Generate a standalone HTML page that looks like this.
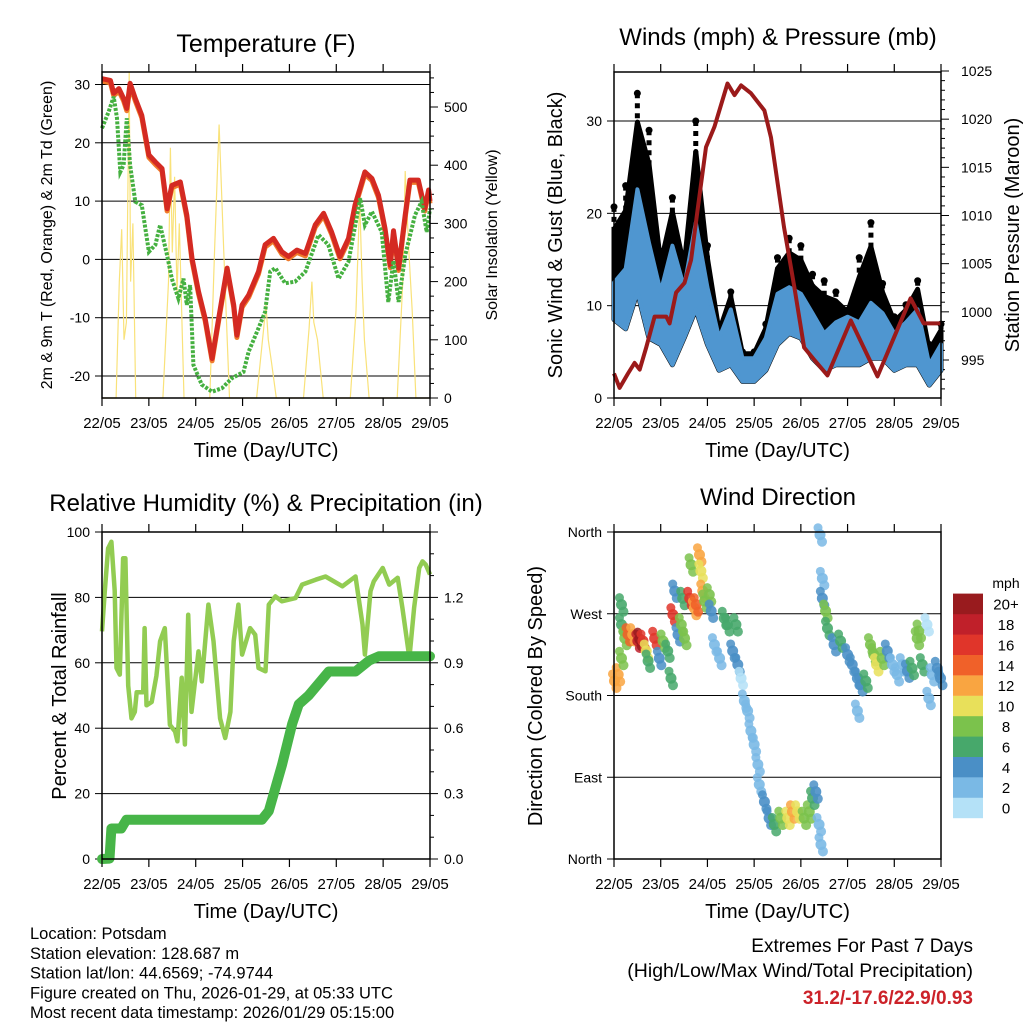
<!DOCTYPE html>
<html><head><meta charset="utf-8"><style>
body{margin:0;background:#fff;}
svg{display:block;font-family:"Liberation Sans",Arial,sans-serif;}
</style></head><body>
<svg id="c" width="1024" height="1024" viewBox="0 0 1024 1024" xmlns="http://www.w3.org/2000/svg"></svg>
<script>
// ---- Temperature panel data (day offset, value) ----
const tDays=[0,0.18,0.25,0.36,0.46,0.53,0.6,0.71,0.85,1.0,1.14,1.28,1.39,1.49,1.67,1.81,1.92,2.06,2.2,2.35,2.49,2.67,2.81,2.88,2.99,3.13,3.34,3.48,3.66,3.84,3.98,4.16,4.34,4.55,4.73,4.9,5.08,5.26,5.4,5.61,5.76,5.9,6.04,6.15,6.22,6.33,6.47,6.57,6.75,6.89,6.97,7.0];
const tVals=[31,30.7,28.5,29.3,27.6,25.9,30.2,27.6,24.7,17.9,16.7,15.6,8.7,12.7,13.3,7.6,0.2,-5.5,-10.1,-17,-10.1,-1.5,-7.8,-13,-7.8,-6.1,-2.1,2.5,3.6,1.3,0.5,1.6,1.0,5.9,7.9,4.7,0.5,3.6,9.3,15.0,13.9,11.0,5.3,-1.0,4.9,-1.5,7.6,13.6,13.6,8.7,11.9,10];
const tdDays=[0,0.14,0.25,0.32,0.39,0.46,0.53,0.6,0.71,0.85,1.0,1.14,1.24,1.39,1.49,1.63,1.74,1.81,1.88,1.95,2.13,2.35,2.56,2.77,3.02,3.13,3.34,3.48,3.59,3.7,3.91,4.12,4.34,4.62,4.83,5.05,5.26,5.51,5.61,5.76,5.97,6.11,6.22,6.33,6.47,6.68,6.82,6.93,7.0];
const tdVals=[22.5,25.3,27.9,24.2,15,16.2,24.2,16.2,9.9,9.3,1.3,2.5,5.9,0.7,-3.3,-6.7,-3.3,-7.8,-4.4,-18.1,-21.5,-22.7,-22.1,-20.4,-19.3,-15.8,-11.8,-9,-2.1,-1.5,-4.1,-3.8,-2.1,4.2,2.5,-3.3,-0.4,10.5,5.9,8.2,4.7,-7.3,-0.2,-7.3,0.7,7.6,9.9,4.7,8.7];
const solDays=[0,0.3,0.37,0.42,0.47,0.52,0.58,0.61,0.66,0.72,1.3,1.42,1.46,1.5,1.55,1.6,1.65,1.75,2.3,2.4,2.5,2.6,2.72,3.3,3.45,3.5,3.55,3.62,3.72,4.3,4.42,4.48,4.52,4.6,4.72,5.3,5.42,5.5,5.55,5.6,5.7,6.3,6.42,6.47,6.55,6.62,6.7,7.0];
const solVals=[0,0,200,290,100,130,560,200,300,0,0,200,430,250,380,180,300,0,0,250,470,250,0,0,120,160,100,60,0,0,120,200,130,100,0,0,150,340,200,100,0,0,200,390,250,150,0,0];
const tTicks=[-20,-10,0,10,20,30];
const solTicks=[0,100,200,300,400,500];
const dayLabels=["22/05","23/05","24/05","25/05","26/05","27/05","28/05","29/05"];
// ---- Wind panel ----
const wDays=[0,0.25,0.5,0.75,1,1.25,1.5,1.75,2,2.25,2.5,2.75,3,3.25,3.5,3.75,4,4.25,4.5,4.75,5,5.25,5.5,5.75,6,6.25,6.5,6.75,7];
const windHi=[12.5,14,22.6,16.8,11.5,16.5,12,19,12,6.5,9.6,4.3,4.3,6.5,11.3,12,11.3,9.2,7,8.2,8.8,8.2,10.3,9.2,7,8.2,9.6,3.6,5.8];
const windLo=[8.5,7.5,11.5,6.5,5.8,3.6,6.5,9.6,5.8,3,3.6,1.8,1.8,3,5.8,7,6.5,4.3,3,3.6,3.6,3.6,4.3,4.3,3,3.6,3.6,1.4,3];
const gustHi=[20.7,23,33,29,15.9,21.7,15.2,30,16.5,7.5,11.5,5,5,8,15.2,17.3,16.5,13.4,12.7,11.5,9.5,15.2,19,12.4,8.8,10.1,12.7,5.8,8];
const pDays=[0,0.12,0.3,0.44,0.55,0.69,0.87,1.12,1.19,1.33,1.51,1.65,1.79,1.97,2.15,2.43,2.58,2.72,2.93,3.22,3.36,3.64,3.86,4.07,4.29,4.57,5.07,5.64,6.35,6.63,7.0];
const pVals=[993.6,992.1,993.6,994.7,994,996.3,999.5,999.5,998.8,1002,1003,1005.4,1010.6,1017.1,1019.2,1023.7,1022.5,1023.5,1022.7,1020.9,1018.1,1008.8,1002.6,996.3,995,993.4,999.1,993.3,1001.4,998.8,998.8];
const wTicks=[0,10,20,30];
const pTicks=[995,1000,1005,1010,1015,1020,1025];
// ---- RH panel ----
const rhDays=[0,0.06,0.13,0.2,0.27,0.31,0.38,0.45,0.5,0.56,0.63,0.7,0.74,0.88,0.91,0.95,1.06,1.16,1.24,1.34,1.45,1.56,1.61,1.7,1.77,1.84,1.91,2.06,2.13,2.27,2.38,2.52,2.63,2.74,2.81,2.91,2.99,3.16,3.27,3.34,3.49,3.56,3.7,3.84,4.13,4.27,4.56,4.77,5.13,5.41,5.56,5.61,5.73,5.8,5.99,6.13,6.31,6.41,6.56,6.66,6.77,6.84,6.91,7.0];
const rhVals=[69.6,81.9,95,97,82,58.4,56.4,92,92,53,43,45,51,51,70.6,47,48,56,66.6,70.6,41,39,36,55.4,35,74.7,45,63.5,54.3,77.8,66.6,43,37,45,66.6,77.8,62.5,70.6,68.6,58.4,57.4,77.8,80.3,78.8,79.8,83.9,85.4,86.4,83.4,86.4,71.7,62.5,81.9,84.9,89,83.9,86,76.8,61.5,76.8,89,91,90,87];
const prDays=[0,0.16,0.2,0.41,0.52,3.41,3.56,3.84,4.06,4.2,4.41,4.84,5.41,5.7,5.91,7.0];
const prVals=[0,0.002,0.14,0.14,0.18,0.18,0.22,0.43,0.62,0.71,0.75,0.86,0.86,0.91,0.93,0.93];
const rhTicks=[0,20,40,60,80,100];
const prTicks=[0,0.3,0.6,0.9,1.2];
// ---- Wind direction panel ----
const dirDays=[0.01,0.09,0.16,0.16,0.16,0.23,0.3,0.4,0.51,0.55,0.62,0.69,0.73,0.87,0.97,1.05,1.15,1.22,1.26,1.3,1.37,1.44,1.47,1.51,1.62,1.65,1.72,1.76,1.83,1.86,1.9,1.94,2.04,2.08,2.15,2.26,2.36,2.43,2.54,2.61,2.65,2.72,2.79,2.86,2.93,3.0,3.08,3.11,3.22,3.32,3.43,3.57,3.72,3.82,3.93,4.07,4.18,4.25,4.32,4.39,4.43,4.41,4.46,4.46,4.53,4.57,4.71,4.85,5.0,5.1,5.21,5.21,5.28,5.39,5.49,5.56,5.62,5.74,5.85,5.96,6.06,6.17,6.28,6.38,6.49,6.53,6.6,6.7,6.74,6.81,6.92,6.99];
const dirVals=[196,203,221,258,280,243,247,247,240,242,240,229,218,243,221,240,229,199,269,295,247,258,287,243,287,324,276,280,335,317,295,284,291,273,236,221,265,258,229,258,214,199,174,163,141,126,104,82,63,45,38,45,45,52,52,45,52,67,74,38,16,357,309,287,273,254,236,240,225,214,199,163,192,196,236,225,214,221,229,214,203,214,207,210,243,251,214,258,177,203,210,199];
const dirSpd=[12,12,8,6,6,8,14,12,18,20,16,10,6,16,4,8,6,6,16,4,4,8,6,8,16,8,12,14,12,10,12,8,8,4,2,2,6,6,4,6,4,0,2,2,2,2,2,2,4,4,6,8,10,12,10,8,8,6,4,2,2,2,2,4,8,6,4,6,4,4,4,2,4,6,8,8,10,8,4,2,2,2,4,6,8,8,6,0,2,2,4,4];
const dirTicks=[0,90,180,270,360];
const dirNames=["North","East","South","West","North"];
const cbLabels=["0","2","4","6","8","10","12","14","16","18","20+"];
const cbColors=["#b4e1f7","#7ab9e5","#4a8fc6","#47a86b","#7bc24c","#e8e05a","#f9a541","#f06129","#e0352a","#c0202a","#991b1e"];

const NS="http://www.w3.org/2000/svg";
const svg=document.getElementById('c');
function mk(tag,attrs,parent){const e=document.createElementNS(NS,tag);for(const k in attrs)e.setAttribute(k,attrs[k]);(parent||svg).appendChild(e);return e;}
function txt(s,x,y,size,anchor,parent,extra){const t=mk('text',Object.assign({x:x,y:y,'font-size':size,'text-anchor':anchor||'middle',fill:'#000'},extra||{}),parent);t.textContent=s;return t;}
function lin(d0,d1,r0,r1){return v=>r0+(v-d0)*(r1-r0)/(d1-d0);}
function pathFrom(xs,ys,X,Y){return xs.map((d,i)=>(i?'L':'M')+X(d).toFixed(1)+' '+Y(ys[i]).toFixed(1)).join(' ');}

function frame(g,L,R,T,B,X){
  dayLabels.forEach((lab,i)=>{const x=X(i);
    mk('line',{x1:x,y1:B,x2:x,y2:B+8,stroke:'#000','stroke-width':1.2},g);
    mk('line',{x1:x,y1:T,x2:x,y2:T-8,stroke:'#000','stroke-width':1.2},g);
    const t=txt(lab,x,B+30,15,'middle',g);
    
    
  });
  const r=mk('rect',{x:L,y:T,width:R-L,height:B-T,fill:'none',stroke:'#000','stroke-width':1.5},g);
  
  
  const xt=txt('Time (Day/UTC)',(L+R)/2,B+59,20,'middle',g);
  
  
}
function gridY(g,L,R,y){mk('line',{x1:L,y1:y,x2:R,y2:y,stroke:'#000','stroke-width':1},g);}

// ===== Panel 1: Temperature =====
(function(){
  const L=102,R=430,T=72,B=398;
  const g=mk('g',{});
  const X=lin(0,7,L,R), Y=lin(30,-20,84.5,376), YS=lin(0,500,398,107);
  tTicks.forEach(v=>{gridY(g,L,R,Y(v));mk('line',{x1:L-7,y1:Y(v),x2:L,y2:Y(v),stroke:'#000'},g);const t=txt(String(v),L-12,Y(v)+5,14,'end',g);});
  for(let v=0;v<=550;v+=25){const l=v%100==0?8:4;mk('line',{x1:R,y1:YS(v),x2:R+l,y2:YS(v),stroke:'#000'},g);}
  solTicks.forEach(v=>{const t=txt(String(v),R+14,YS(v)+5,14,'start',g);});
  const s=mk('path',{d:pathFrom(solDays,solVals,X,YS),fill:'none',stroke:'#f9e27a','stroke-width':1.2},g);
  
  const o=mk('path',{d:pathFrom(tDays,tVals.map(v=>v-0.4),X,Y),fill:'none',stroke:'#f07a2a','stroke-width':5,'stroke-linejoin':'round'},g);
  
  const r=mk('path',{d:pathFrom(tDays,tVals,X,Y),fill:'none',stroke:'#d42a22','stroke-width':5,'stroke-linejoin':'round'},g);
  
  const d=mk('path',{d:pathFrom(tdDays,tdVals,X,Y),fill:'none',stroke:'#45b040','stroke-width':4,'stroke-dasharray':'3 1.5'},g);
  
  frame(g,L,R,T,B,X);
  const ti=txt('Temperature (F)',266,52,25,'middle',g);
  const yl=txt('2m & 9m T (Red, Orange) & 2m Td (Green)',0,0,16,'middle',g,{transform:'translate(52,235) rotate(-90)'});
  const yr=txt('Solar Insolation (Yellow)',0,0,16,'middle',g,{transform:'translate(497,235) rotate(-90)'});
})();

// ===== Panel 2: Winds =====
(function(){
  const L=614,R=941,T=72,B=398;
  const g=mk('g',{});
  const X=lin(0,7,L,R), Y=lin(0,30,398,121), YP=lin(995,1025,360,71);
  wTicks.forEach(v=>{gridY(g,L,R,Y(v));mk('line',{x1:L-7,y1:Y(v),x2:L,y2:Y(v),stroke:'#000'},g);const t=txt(String(v),L-12,Y(v)+5,14,'end',g);});
  for(let v=992;v<=1025;v+=1){const l=v%5==0?8:4;mk('line',{x1:R,y1:YP(v),x2:R+l,y2:YP(v),stroke:'#000'},g);}
  pTicks.forEach(v=>{const t=txt(String(v),R+20,YP(v)+5,14,'start',g);});
  const up=wDays.map((d,i)=>X(d).toFixed(1)+','+Y(windHi[i]+(gustHi[i]-windHi[i])*0.7).toFixed(1));
  const dn=wDays.map((d,i)=>X(d).toFixed(1)+','+Y(windLo[i]).toFixed(1)).reverse();
  const gp=mk('polygon',{points:up.concat(dn).join(' '),fill:'#000',stroke:'#000','stroke-width':5,'stroke-linejoin':'round'},g);
  
  wDays.forEach((d,i)=>{
    const c=mk('circle',{cx:X(d),cy:Y(gustHi[i]),r:3.5,fill:'#000'},g);
    
    
    const mid=mk('line',{x1:X(d),y1:Y(gustHi[i]),x2:X(d),y2:Y(windHi[i]),stroke:'#000','stroke-width':5,'stroke-dasharray':'5 5'},g);
    
    
  });
  const bu=wDays.map((d,i)=>X(d).toFixed(1)+','+Y(windHi[i]).toFixed(1));
  const bp=mk('polygon',{points:bu.concat(dn).join(' '),fill:'#4f96d0',stroke:'#4f96d0','stroke-width':4,'stroke-linejoin':'round'},g);
  
  const p=mk('path',{d:pathFrom(pDays,pVals,X,YP),fill:'none',stroke:'#9b1a1a','stroke-width':4,'stroke-linejoin':'round'},g);
  
  frame(g,L,R,T,B,X);
  const ti=txt('Winds (mph) & Pressure (mb)',778,45,24,'middle',g);
  const yl=txt('Sonic Wind & Gust (Blue, Black)',0,0,20,'middle',g,{transform:'translate(562,235) rotate(-90)'});
  const yr=txt('Station Pressure (Maroon)',0,0,20,'middle',g,{transform:'translate(1019,235) rotate(-90)'});
})();

// ===== Panel 3: RH & precip =====
(function(){
  const L=102,R=430,T=532,B=859;
  const g=mk('g',{});
  const X=lin(0,7,L,R), Y=lin(0,100,B,T), YR=lin(0,1.5,B,T);
  rhTicks.forEach(v=>{if(v>0&&v<100)gridY(g,L,R,Y(v));mk('line',{x1:L-7,y1:Y(v),x2:L,y2:Y(v),stroke:'#000'},g);const t=txt(String(v),L-12,Y(v)+5,14,'end',g);});
  for(let v=0;v<=15;v++){const l=v%3==0?8:4;mk('line',{x1:R,y1:YR(v/10),x2:R+l,y2:YR(v/10),stroke:'#000'},g);}
  prTicks.forEach(v=>{const t=txt(v.toFixed(1),R+14,YR(v)+5,14,'start',g);});
  const rh=mk('path',{d:pathFrom(rhDays,rhVals,X,Y),fill:'none',stroke:'#92cc52','stroke-width':4.5,'stroke-linejoin':'round'},g);
  
  const pr=mk('path',{d:pathFrom(prDays,prVals,X,YR),fill:'none',stroke:'#47b548','stroke-width':10,'stroke-linejoin':'round','stroke-linecap':'round'},g);
  
  frame(g,L,R,T,B,X);
  const ti=txt('Relative Humidity (%) & Precipitation (in)',266,511,24,'middle',g);
  const yl=txt('Percent & Total Rainfall',0,0,20,'middle',g,{transform:'translate(66,696) rotate(-90)'});
})();

// ===== Panel 4: Wind direction =====
(function(){
  const L=614,R=941,T=532,B=859;
  const g=mk('g',{});
  const X=lin(0,7,L,R), Y=lin(0,360,B,T);
  dirTicks.forEach((v,i)=>{if(v>0&&v<360)gridY(g,L,R,Y(v));mk('line',{x1:L-7,y1:Y(v),x2:L,y2:Y(v),stroke:'#000'},g);const t=txt(dirNames[i],L-12,Y(v)+5,14,'end',g);});
  dirDays.forEach((d,i)=>{
    const ci=Math.min(10,Math.round(dirSpd[i]/2));
    const c=mk('circle',{cx:X(d),cy:Y(dirVals[i]),r:5.5,fill:cbColors[ci],opacity:0.9},g);
    
    
    const c2=mk('circle',{cx:X(d)+2,cy:Y(dirVals[i])+7,r:5,fill:cbColors[ci],opacity:0.85},g);
    
    
    const c3=mk('circle',{cx:X(d)-2,cy:Y(dirVals[i])-7,r:4.5,fill:cbColors[ci],opacity:0.85},g);
    
    
  });
  frame(g,L,R,T,B,X);
  const ti=txt('Wind Direction',778,505,24,'middle',g);
  const yl=txt('Direction (Colored By Speed)',0,0,20,'middle',g,{transform:'translate(542,696) rotate(-90)'});
  const lg=mk('g',{});
  const m=txt('mph',1006,588,14,'middle',lg);
  cbLabels.forEach((lab,i)=>{const y=818-(i+1)*20.4;
    const r=mk('rect',{x:953,y:y,width:30,height:20.6,fill:cbColors[i]},lg);
    
    const t=txt(lab,1006,y+16,15,'middle',lg);});
})();

// ===== Footer text =====
(function(){
  const g=mk('g',{});
  ["Location: Potsdam","Station elevation: 128.687 m","Station lat/lon: 44.6569; -74.9744","Figure created on Thu, 2026-01-29, at 05:33 UTC","Most recent data timestamp: 2026/01/29 05:15:00"].forEach((s,i)=>{txt(s,30,939+i*19.8,16.5,'start',g);});
  const e=mk('g',{});
  txt('Extremes For Past 7 Days',973,952,19,'end',e);
  txt('(High/Low/Max Wind/Total Precipitation)',973,977,19.5,'end',e);
  txt('31.2/-17.6/22.9/0.93',973,1004,19,'end',e,{fill:'#cc2229','font-weight':'bold'});
})();
</script>
</body></html>
